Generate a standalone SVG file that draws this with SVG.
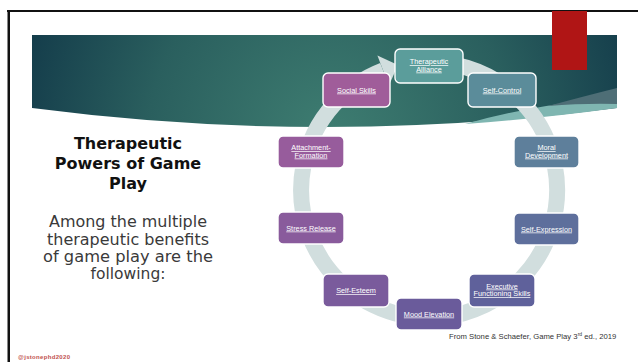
<svg xmlns="http://www.w3.org/2000/svg" width="638" height="362" viewBox="0 0 638 362">
  <defs>
    <radialGradient id="bannerGrad" gradientUnits="userSpaceOnUse" cx="330" cy="135" r="330">
      <stop offset="0" stop-color="#3E7D71"/>
      <stop offset="0.55" stop-color="#2A5F5E"/>
      <stop offset="1" stop-color="#123949"/>
    </radialGradient>
    <style>
      .node rect { stroke: #FFFFFF; stroke-width: 1.4; }
      .node text { font-family: "Liberation Sans", Arial, sans-serif; font-size: 7.3px; fill: #FFFFFF; text-anchor: middle; text-decoration: underline; }
      .title { font-family: "DejaVu Sans", sans-serif; font-weight: bold; font-size: 16px; fill: #111111; text-anchor: middle; }
      .body { font-family: "DejaVu Sans", sans-serif; font-size: 15px; fill: #3A3A3A; text-anchor: middle; }
    </style>
  </defs>

  <rect x="0" y="0" width="638" height="362" fill="#FFFFFF"/>

  <!-- slide frame -->
  <rect x="7" y="10" width="631" height="2" fill="#111111"/>
  <rect x="7.5" y="10" width="2.5" height="352" fill="#111111"/>

  <!-- banner -->
  <path d="M32,35 H617 V108 Q325,146 32,108 Z" fill="url(#bannerGrad)"/>
  <path d="M465,124 Q520,108 590,100 L617,98 V108 Q545,118 465,124 Z" fill="#7FB6B1"/>
  <path d="M548,106 Q585,96 617,88 V104 Q585,103 548,106 Z" fill="#4E6E76"/>

  <!-- red tab -->
  <rect x="552" y="11" width="35" height="59" fill="#B01515"/>

  <!-- connectors: circular arrow -->
  <g id="connectors">
    <path d="M406.8,63.9 A128,128 0 1 1 383.1,70.5" fill="none" stroke="#D1DEDE" stroke-width="16"/>
    <polygon points="377.4,55.6 398,65 388.9,85.4" fill="#D1DEDE"/>
  </g>

  <!-- nodes -->
  <g id="node-therapeutic-alliance" class="node">
    <rect x="395" y="49" width="68" height="34" rx="5" fill="#5B9D9B"/>
    <text x="429" y="64">Therapeutic</text>
    <text x="429" y="71.5">Alliance</text>
  </g>
  <g id="node-social-skills" class="node">
    <rect x="323" y="73" width="67" height="34" rx="5" fill="#A05D9A"/>
    <text x="356.5" y="92.5">Social Skills</text>
  </g>
  <g id="node-self-control" class="node">
    <rect x="468" y="73" width="68" height="34" rx="5" fill="#5B8C9A"/>
    <text x="502" y="92.5">Self-Control</text>
  </g>
  <g id="node-attachment-formation" class="node">
    <rect x="278" y="136" width="66" height="32" rx="5" fill="#975C9C"/>
    <text x="311" y="150">Attachment-</text>
    <text x="311" y="157.5">Formation</text>
  </g>
  <g id="node-moral-development" class="node">
    <rect x="514" y="136" width="65" height="32" rx="5" fill="#5E7F9B"/>
    <text x="546.5" y="150">Moral</text>
    <text x="546.5" y="157.5">Development</text>
  </g>
  <g id="node-stress-release" class="node">
    <rect x="278" y="212" width="66" height="32" rx="5" fill="#895B9C"/>
    <text x="311" y="230.5">Stress Release</text>
  </g>
  <g id="node-self-expression" class="node">
    <rect x="514" y="213" width="65" height="32" rx="5" fill="#5E6F9C"/>
    <text x="546.5" y="231.5">Self-Expression</text>
  </g>
  <g id="node-self-esteem" class="node">
    <rect x="323" y="274" width="66" height="33" rx="5" fill="#7A5B9C"/>
    <text x="356" y="293">Self-Esteem</text>
  </g>
  <g id="node-mood-elevation" class="node">
    <rect x="396" y="298" width="66" height="32" rx="5" fill="#6A5B9B"/>
    <text x="429" y="316.5">Mood Elevation</text>
  </g>
  <g id="node-executive-functioning" class="node">
    <rect x="469" y="274" width="66" height="33" rx="5" fill="#5F619B"/>
    <text x="502" y="288.5">Executive</text>
    <text x="502" y="296">Functioning Skills</text>
  </g>

  <!-- left text -->
  <text class="title" x="128" y="149">Therapeutic</text>
  <text class="title" x="128" y="169">Powers of Game</text>
  <text class="title" x="128" y="189">Play</text>

  <text class="body" x="128" y="227.3" textLength="158" lengthAdjust="spacingAndGlyphs">Among the multiple</text>
  <text class="body" x="128" y="244.6" textLength="162" lengthAdjust="spacingAndGlyphs">therapeutic benefits</text>
  <text class="body" x="128" y="261.9" textLength="170" lengthAdjust="spacingAndGlyphs">of game play are the</text>
  <text class="body" x="128" y="279" textLength="75" lengthAdjust="spacingAndGlyphs">following:</text>

  <!-- citation -->
  <text x="449" y="339" font-family="'Liberation Sans', Arial, sans-serif" font-size="7.7" fill="#333333">From Stone &amp; Schaefer, Game Play 3<tspan font-size="5" baseline-shift="super">rd</tspan> ed., 2019</text>

  <!-- watermark -->
  <text x="18" y="359" font-family="'Liberation Sans', Arial, sans-serif" font-size="6" font-weight="bold" fill="#C0504D" textLength="52" lengthAdjust="spacing">@jstonephd2020</text>
</svg>
